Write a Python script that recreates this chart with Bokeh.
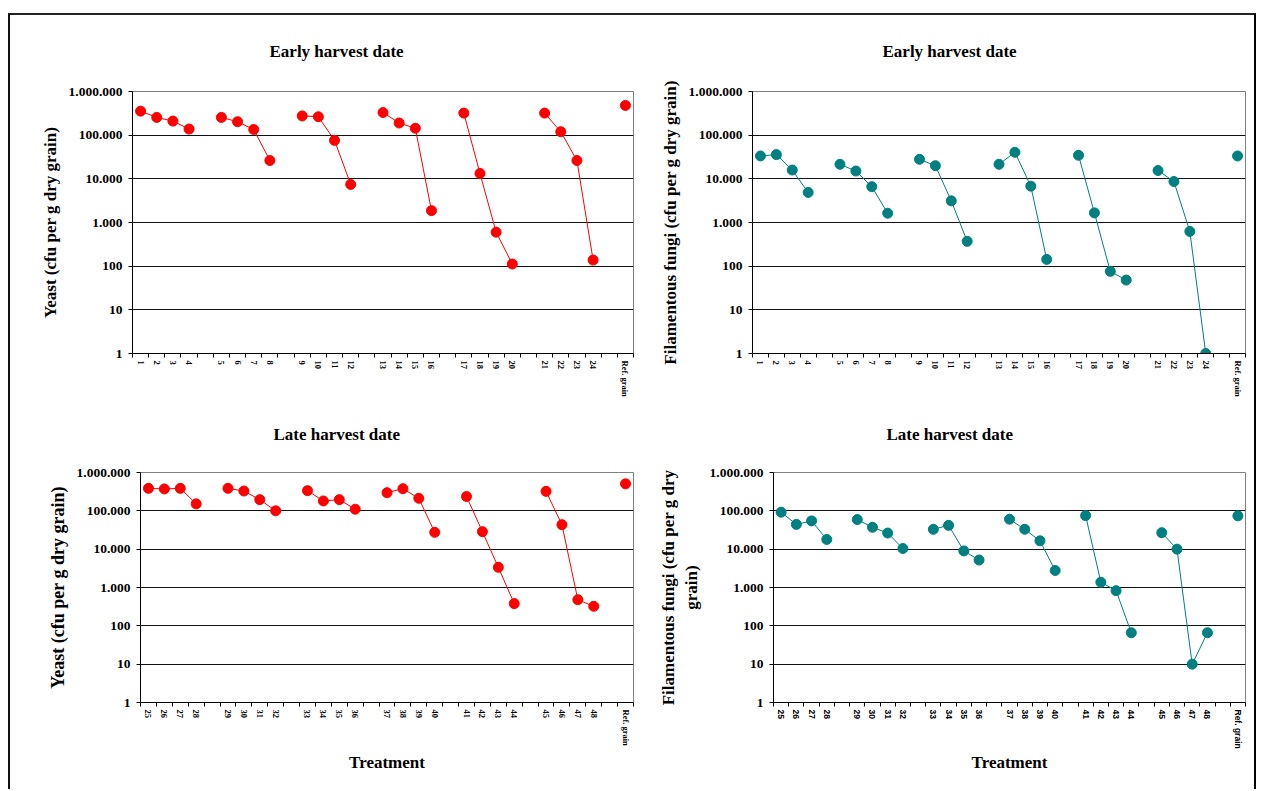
from bokeh.plotting import figure
from bokeh.layouts import column, row
from bokeh.models import (FactorRange, Range1d, FixedTicker, LinearAxis, CategoricalAxis)
from bokeh.embed import file_html
from bokeh.resources import INLINE

# ---------------- data ----------------
early_treat = [str(i) for i in range(1, 25)]
late_treat = [str(i) for i in range(25, 49)]
ref_label = "Ref. grain"

yeast_early = [355000, 255000, 210000, 138000,
               255000, 203000, 135000, 26300,
               276000, 264000, 76000, 7450,
               330000, 190000, 144000, 1870,
               320000, 13300, 600, 112,
               320000, 120000, 26300, 138]
yeast_early_ref = 480000

fungi_early = [33400, 35900, 15900, 4880,
               21500, 15100, 6630, 1630,
               28000, 20000, 3130, 370,
               21500, 40500, 6800, 143,
               34600, 1660, 76, 48,
               15500, 8680, 624, 1]
fungi_early_ref = 33400

yeast_late = [386000, 373000, 386000, 152000,
              386000, 329000, 196000, 100000,
              336000, 181000, 196000, 110000,
              297000, 378000, 212000, 27500,
              236000, 28600, 3360, 380,
              322000, 43500, 480, 323]
yeast_late_ref = 506000

fungi_late = [92000, 44300, 54600, 17900,
              59200, 37200, 26300, 10400,
              33000, 41800, 9000, 5200,
              60500, 33000, 16500, 2780,
              75000, 1370, 826, 66,
              26900, 10000, 10, 66]
fungi_late_ref = 74000

y_ticks = [1, 10, 100, 1000, 10000, 100000, 1000000]
y_tick_labels = ["1", "10", "100", "1.000", "10.000", "100.000", "1.000.000"]

RED = "#FF0000"
TEAL = "#008080"
SERIF = "Liberation Serif"


def build_factors(treat):
    factors = []
    gap = 1
    for g in range(6):
        factors += treat[g * 4:(g + 1) * 4]
        factors.append(" " * gap)
        gap += 1
    factors.append(ref_label)
    return factors


def make_panel(title, ylabel, treat, values, ref_value, color, width, height,
               bl, br, bt, bb, title_offset, title_standoff, ylabel_size, xlabel=None,
               xlabel_font=SERIF, xlabel_standoff=0):
    factors = build_factors(treat)
    p = figure(width=width, height=height, x_range=FactorRange(*factors, range_padding=0),
               y_range=Range1d(1, 1000000), y_axis_type="log",
               x_axis_location=None, output_backend="svg", toolbar_location=None,
               min_border_left=bl, min_border_right=br, min_border_top=bt,
               min_border_bottom=bb, title=title)
    p.title.text_font = SERIF
    p.title.text_font_size = "17px"
    p.title.text_font_style = "bold"
    p.title.align = "left"
    p.title.offset = title_offset
    p.title.standoff = title_standoff
    p.title.text_color = "black"

    p.outline_line_color = "#808080"
    p.outline_line_width = 1
    p.background_fill_color = "white"
    p.border_fill_color = None
    p.xgrid.visible = False
    p.ygrid.ticker = FixedTicker(ticks=y_ticks[1:-1])
    p.ygrid.grid_line_color = "#111111"
    p.ygrid.grid_line_width = 1

    ya = p.yaxis[0]
    ya.ticker = FixedTicker(ticks=y_ticks, minor_ticks=[])
    ya.major_label_overrides = {t: l for t, l in zip(y_ticks, y_tick_labels)}
    ya.major_label_text_font = SERIF
    ya.major_label_text_font_size = "13.5px"
    ya.major_label_text_font_style = "bold"
    ya.major_label_text_color = "black"
    ya.major_tick_out = 4
    ya.major_tick_in = 0
    ya.major_label_standoff = 6
    ya.axis_line_color = "black"
    ya.major_tick_line_color = "black"
    ya.axis_label = ylabel
    ya.axis_label_text_font = SERIF
    ya.axis_label_text_font_size = ylabel_size
    ya.axis_label_text_font_style = "bold"
    ya.axis_label_text_color = "black"
    ya.axis_label_standoff = 6

    # boundary tick marks between categories (Excel style), drawn as minor ticks
    tick_axis = LinearAxis(ticker=FixedTicker(ticks=[],
                                              minor_ticks=list(range(len(factors) + 1))),
                           minor_tick_out=4, minor_tick_in=0,
                           major_tick_out=0, major_tick_in=0, major_label_standoff=0,
                           axis_line_color="black", minor_tick_line_color="black",
                           major_tick_line_color=None)
    p.add_layout(tick_axis, "below")
    cat_axis = CategoricalAxis(axis_line_color=None, major_tick_line_color=None,
                               major_tick_out=0, major_tick_in=0,
                               major_label_standoff=3,
                               major_label_orientation="vertical",
                               major_label_text_font=xlabel_font,
                               major_label_text_font_size="8.5px",
                               major_label_text_font_style="bold",
                               major_label_text_color="black")
    if xlabel:
        cat_axis.axis_label = xlabel
        cat_axis.axis_label_text_font = SERIF
        cat_axis.axis_label_text_font_size = "17px"
        cat_axis.axis_label_text_font_style = "bold"
        cat_axis.axis_label_text_color = "black"
        cat_axis.axis_label_standoff = xlabel_standoff
    p.add_layout(cat_axis, "below")

    for g in range(6):
        xs = treat[g * 4:(g + 1) * 4]
        ys = values[g * 4:(g + 1) * 4]
        p.line(xs, ys, line_color=color, line_width=1)
    p.scatter(treat, values, size=10, fill_color=color, line_color=color)
    p.scatter([ref_label], [ref_value], size=10, fill_color=color, line_color=color)
    return p


p1 = make_panel("Early harvest date", "Yeast (cfu per g dry grain)", early_treat,
                yeast_early, yeast_early_ref, RED, 630, 405, 122, 7, 91, 52, 137, 62, "17px")
p2 = make_panel("Early harvest date", "Filamentous fungi (cfu per g dry grain)", early_treat,
                fungi_early, fungi_early_ref, TEAL, 614, 405, 112, 9, 91, 52, 130, 62, "17px")
p3 = make_panel("Late harvest date", "Yeast (cfu per g dry grain)", late_treat,
                yeast_late, yeast_late_ref, RED, 630, 399, 130, 7, 82, 87, 133, 58, "18px",
                xlabel="Treatment", xlabel_standoff=4)
p4 = make_panel("Late harvest date", "Filamentous fungi (cfu per g dry\ngrain)", late_treat,
                fungi_late, fungi_late_ref, TEAL, 614, 399, 133, 9, 82, 87, 113, 58, "17px",
                xlabel="Treatment", xlabel_font="Liberation Sans", xlabel_standoff=1)

row1 = row(p1, p2, styles={"margin-top": "-15px"})
row2 = row(p3, p4, styles={"margin-top": "-15px"})
layout = column(row1, row2,
                styles={"border-top": "2px solid #222222",
                        "border-left": "2px solid #111111",
                        "border-right": "2px solid #000000",
                        "margin-top": "13px",
                        "margin-left": "8px"})

open("out.html", "w").write(file_html(layout, INLINE))
